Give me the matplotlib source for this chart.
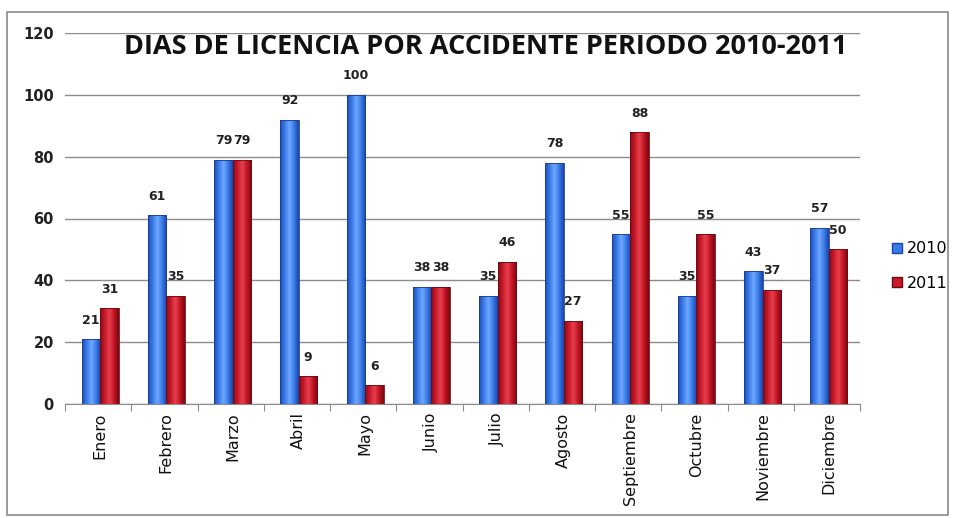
import matplotlib
matplotlib.use("Agg")
import matplotlib.pyplot as plt
import numpy as np
from matplotlib.colors import LinearSegmentedColormap
from matplotlib.patches import Rectangle, Patch

months = ["Enero", "Febrero", "Marzo", "Abril", "Mayo", "Junio", "Julio",
          "Agosto", "Septiembre", "Octubre", "Noviembre", "Diciembre"]
v2010 = [21, 61, 79, 92, 100, 38, 35, 78, 55, 35, 43, 57]
v2011 = [31, 35, 79, 9, 6, 38, 46, 27, 88, 55, 37, 50]
series_names = ["2010", "2011"]
yticks = [0, 20, 40, 60, 80, 100, 120]

fig = plt.figure(figsize=(9.56, 5.18), dpi=100)
fig.patch.set_facecolor("white")
# outer chart frame
fig.add_artist(Rectangle((7/956, 1-515/518), 941/956, 503/518, transform=fig.transFigure,
                         fill=False, edgecolor="#8a8a8a", linewidth=1.2))

ax = fig.add_axes([65/956, 1-404/518, 795/956, 371/518])
x = np.arange(len(months))
w = 0.28

blue_cmap = LinearSegmentedColormap.from_list("b", ["#1f4fb8", "#3a7be8", "#6fa8ff", "#3a7be8", "#1a44a8"])
red_cmap = LinearSegmentedColormap.from_list("r", ["#8a0a14", "#c81a2a", "#e8404e", "#c01424", "#7a0810"])

grad = np.linspace(0, 1, 64).reshape(1, -1)

def grad_bars(xs, vals, cmap, edge):
    bars = ax.bar(xs, vals, width=w, color="none", edgecolor=edge, linewidth=0.6, zorder=3)
    for b in bars:
        x0, y0 = b.get_x(), b.get_y()
        bw, bh = b.get_width(), b.get_height()
        im = ax.imshow(grad, cmap=cmap, aspect="auto", extent=(x0, x0 + bw, y0, y0 + bh),
                       zorder=2, interpolation="bicubic")
        im.set_clip_path(b)
    return bars

b1 = grad_bars(x - w/2 + 0.03, v2010, blue_cmap, "#1a3c90")
b2 = grad_bars(x + w/2 + 0.03, v2011, red_cmap, "#6a0a10")

for xi, v in zip(x - w/2 + 0.03, v2010):
    ax.text(xi, v + 4, str(v), ha="center", va="bottom", fontsize=9, fontweight="bold", color="#222222")
for xi, v in zip(x + w/2 + 0.03, v2011):
    ax.text(xi, v + 4, str(v), ha="center", va="bottom", fontsize=9, fontweight="bold", color="#222222")

ax.set_xlim(-0.5, len(months) - 0.5)
ax.set_ylim(0, 120)
ax.set_yticks(yticks)
ax.set_yticklabels([str(t) for t in yticks], fontsize=10.5, fontweight="bold", color="#222222")
ax.yaxis.grid(True, color="#8c8c8c", linewidth=1.0)
ax.set_axisbelow(True)
ax.tick_params(axis="y", length=0, pad=8)
ax.set_xticks(np.arange(len(months) + 1) - 0.5, minor=False)
ax.set_xticklabels([])
ax.set_xticks(x + 0.03, minor=True)
ax.set_xticklabels(months, minor=True, rotation=90, fontsize=11.5, color="#111111")
ax.tick_params(axis="x", which="major", length=5, color="#8c8c8c", direction="out")
ax.tick_params(axis="x", which="minor", length=0, pad=6)
for s in ["top", "right", "left"]:
    ax.spines[s].set_visible(False)
ax.spines["bottom"].set_color("#8c8c8c")
ax.set_xlim(-0.5, len(months) - 0.5)

fig.text(486/956, 1-47/518, "DIAS DE LICENCIA POR ACCIDENTE PERIODO 2010-2011",
         ha="center", va="center", fontsize=19.5, fontweight="bold", family="Open Sans", color="#111111")

handles = [Patch(facecolor="#3a7be8", edgecolor="#1a44a8"), Patch(facecolor="#c81a2a", edgecolor="#6a0a10")]
fig.legend(handles, series_names, loc="center left", bbox_to_anchor=(892/956, 1-266/518),
           frameon=False, fontsize=11.5, handlelength=0.6, handleheight=0.6, handletextpad=0.3,
           labelspacing=1.2, borderpad=0, borderaxespad=0)

fig.savefig("out.png", dpi=100)
